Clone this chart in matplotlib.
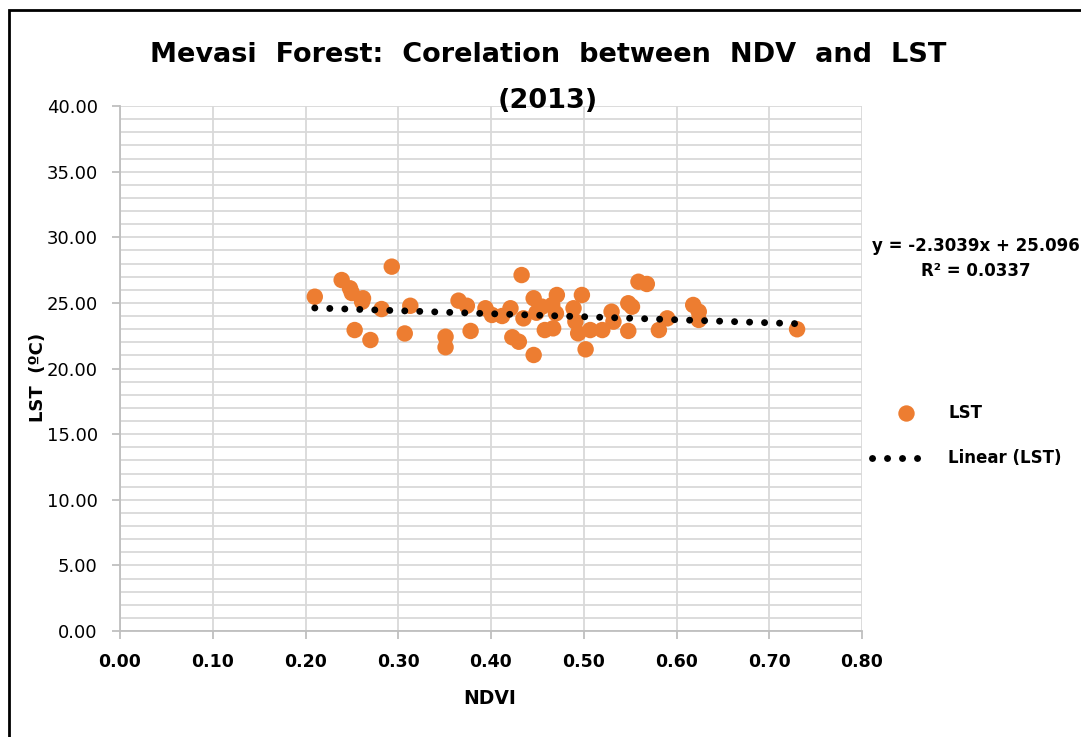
import numpy as np
import matplotlib.pyplot as plt
from matplotlib.patches import Rectangle
from matplotlib.lines import Line2D

# --- Dados (NDVI x LST) ---
ndvi = [0.210, 0.239, 0.248, 0.250, 0.262, 0.261, 0.253, 0.270, 0.282, 0.293,
        0.307, 0.313, 0.351, 0.351, 0.365, 0.374, 0.378, 0.394, 0.401, 0.412,
        0.421, 0.423, 0.430, 0.433, 0.435, 0.446, 0.446, 0.455, 0.458, 0.467,
        0.466, 0.471, 0.470, 0.489, 0.491, 0.494, 0.498, 0.502, 0.507, 0.520,
        0.530, 0.532, 0.548, 0.552, 0.548, 0.559, 0.568, 0.581, 0.590, 0.618,
        0.624, 0.624, 0.730, 0.449]
lst = [25.47, 26.74, 26.11, 25.75, 25.35, 25.09, 22.93, 22.17, 24.53, 27.76,
       22.67, 24.78, 22.42, 21.62, 25.17, 24.78, 22.86, 24.59, 24.08, 24.00,
       24.59, 22.38, 22.04, 27.12, 23.82, 25.35, 21.03, 24.71, 22.93, 23.06,
       24.84, 25.60, 24.20, 24.59, 23.57, 22.68, 25.60, 21.46, 22.93, 22.93,
       24.33, 23.57, 24.97, 24.71, 22.86, 26.61, 26.44, 22.93, 23.82, 24.84,
       24.33, 23.70, 22.99, 24.25]

slope, intercept = -2.3039, 25.096
eq_text = "y = -2.3039x + 25.096"
r2_text = "R² = 0.0337"

x_ticks = np.arange(0, 0.81, 0.1)
y_ticks = np.arange(0, 40.1, 5)

ORANGE = '#ED7D31'
GRID = '#D9D9D9'

plt.rcParams['font.family'] = ['DejaVu Sans']

fig = plt.figure(figsize=(10.81, 7.37), dpi=100)
ax = fig.add_axes([120/1081, 1 - 631/737, 742/1081, 525/737])

# linha de tendencia
xt = np.array([min(ndvi), max(ndvi)])
ax.plot(xt, slope * xt + intercept, color='black', lw=5,
        linestyle=(0, (0.01, 2.15)), dash_capstyle='round', zorder=3)
ax.scatter(ndvi, lst, s=140, color=ORANGE, edgecolors='none', zorder=2)

ax.set_xlim(0, 0.8)
ax.set_ylim(0, 40)
ax.set_xticks(x_ticks)
ax.set_yticks(y_ticks)
ax.set_yticks(np.arange(0, 40.1, 1), minor=True)
ax.set_xticklabels([f'{v:.2f}' for v in x_ticks], fontweight='bold', fontsize=12.5)
ax.set_yticklabels([f'{v:.2f}' for v in y_ticks], fontsize=13)
ax.grid(which='both', color=GRID, lw=1.3, zorder=0)
ax.set_axisbelow(True)
for s in ['top', 'right']:
    ax.spines[s].set_visible(False)
for s in ['left', 'bottom']:
    ax.spines[s].set_color('#BFBFBF')
    ax.spines[s].set_linewidth(1.3)
ax.tick_params(which='major', length=6, width=1.3, color='#BFBFBF', colors='black')
ax.tick_params(axis='x', which='major', pad=10)
ax.tick_params(axis='y', which='major', pad=10)
ax.tick_params(which='minor', length=0)

fig.text(490/1081, 1 - 698/737, 'NDVI', fontweight='bold', fontsize=13.5,
         ha='center', va='center')
fig.text(38/1081, 1 - 377/737, 'LST  (ºC)', rotation=90, fontweight='bold',
         fontsize=13, ha='center', va='center')

# titulo
fig.text(548/1081, 1 - 55/737, 'Mevasi  Forest:  Corelation  between  NDV  and  LST',
         fontweight='bold', fontsize=19.5, ha='center', va='center')
fig.text(548/1081, 1 - 101/737, '(2013)', fontweight='bold', fontsize=19.5,
         ha='center', va='center')

# equacao
fig.text(976/1081, 1 - 246/737, eq_text, fontweight='bold', fontsize=12,
         ha='center', va='center')
fig.text(976/1081, 1 - 271/737, r2_text, fontweight='bold', fontsize=12,
         ha='center', va='center')

# legenda
fig.add_artist(Line2D([906/1081], [1 - 413/737], marker='o', markersize=11.8,
                      color=ORANGE, markeredgewidth=0, linestyle='none'))
fig.text(948/1081, 1 - 413/737, 'LST', fontweight='bold', fontsize=12, va='center')
fig.add_artist(Line2D([872/1081, 932/1081], [1 - 458/737, 1 - 458/737], color='black',
                      lw=5, linestyle=(0, (0.01, 2.15)), dash_capstyle='round'))
fig.text(948/1081, 1 - 458/737, 'Linear (LST)', fontweight='bold', fontsize=12,
         va='center')

# borda
fig.add_artist(Rectangle((9/1081, -0.1), 1.2, 1 - 10/737 + 0.1,
                         transform=fig.transFigure, fill=False, lw=2, edgecolor='black'))

plt.savefig('out.png', dpi=100)
